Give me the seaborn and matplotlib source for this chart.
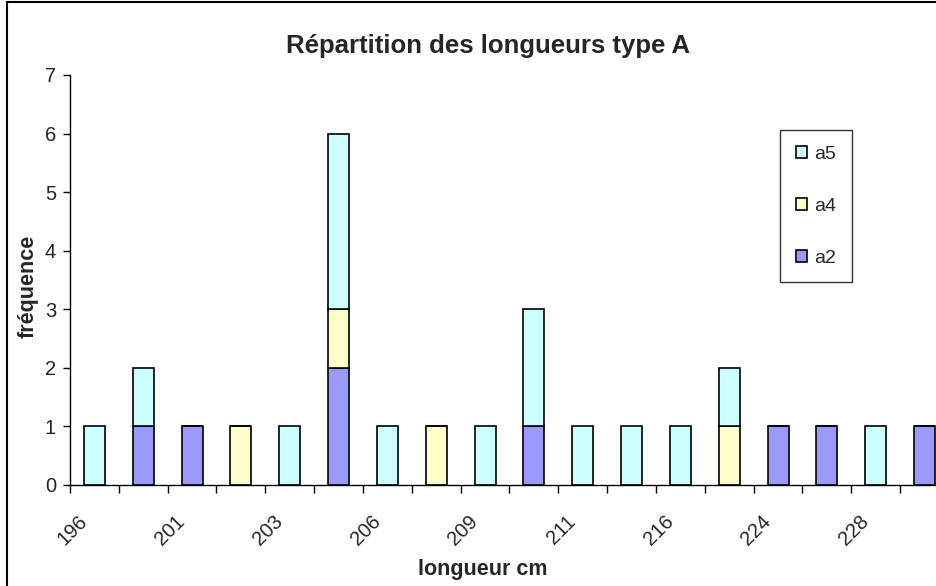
import numpy as np
import pandas as pd
import matplotlib
matplotlib.use("Agg")
import matplotlib.pyplot as plt
from matplotlib.patches import Patch, Rectangle
from matplotlib.transforms import ScaledTranslation
import seaborn as sns

# lengths (cm) - only every other one is labelled on the chart
lengths = ["196", "200", "201", "202", "203", "205", "206", "207", "209",
           "210", "211", "213", "216", "220", "224", "226", "228", "230"]
tick_labels = ["196", "201", "203", "206", "209", "211", "216", "224", "228"]

a2 = [0, 1, 1, 0, 0, 2, 0, 0, 0, 1, 0, 0, 0, 0, 1, 1, 0, 1]
a4 = [0, 0, 0, 1, 0, 1, 0, 1, 0, 0, 0, 0, 0, 1, 0, 0, 0, 0]
a5 = [1, 1, 0, 0, 1, 3, 1, 0, 1, 2, 1, 1, 1, 1, 0, 0, 1, 0]

colors = {"a2": "#9999FF", "a4": "#FFFFCC", "a5": "#CCFFFF"}

df = pd.DataFrame({"longueur": lengths, "a2": a2, "a4": a4, "a5": a5})

sns.set_theme(style="white")
plt.rcParams["font.family"] = ["Liberation Sans", "DejaVu Sans"]

W, H = 937, 586
fig = plt.figure(figsize=(W / 100, H / 100), dpi=100)
ax = fig.add_axes([70 / W, 1 - 485 / H, (949 - 70) / W, (485 - 75) / H])

# stacked bars: a2 at the bottom, then a4, then a5
bottom = np.zeros(len(df))
for serie in ["a2", "a4", "a5"]:
    sns.barplot(data=df, x="longueur", y=serie, bottom=bottom, color=colors[serie],
                width=0.43, edgecolor="black", linewidth=1.2, saturation=1,
                order=lengths, ax=ax)
    bottom = bottom + df[serie].to_numpy()

ax.set_xlim(-0.5, len(lengths) - 0.5)
ax.set_ylim(0, 7)
ax.set_yticks(range(0, 8))
ax.tick_params(axis="y", which="major", direction="out", length=5, width=1,
               color="black", labelsize=14.5, pad=5, left=True)

# major ticks between categories, labels on every other category
ax.set_xticks(np.arange(-0.5, len(lengths), 1.0))
ax.set_xticklabels([])
ax.set_xticks(range(0, len(lengths), 2), tick_labels, minor=True)
ax.tick_params(axis="x", which="major", direction="out", length=6, width=1,
               color="black", bottom=True)
ax.tick_params(axis="x", which="minor", length=0, labelsize=14.5, pad=24)
for lbl in ax.get_xticklabels(minor=True):
    lbl.set_rotation(45)
    lbl.set_ha("right")
    lbl.set_va("center")
    lbl.set_rotation_mode("anchor")
    lbl.set_transform(lbl.get_transform() + ScaledTranslation(-0.1, 0, fig.dpi_scale_trans))

for side in ["top", "right"]:
    ax.spines[side].set_visible(False)
for side in ["left", "bottom"]:
    ax.spines[side].set_color("black")
    ax.spines[side].set_linewidth(1)
ax.grid(False)

ax.set_xlabel("")
ax.set_ylabel("")
fig.text(488 / W, 1 - 46 / H, "Répartition des longueurs type A", ha="center", va="center",
         fontsize=18.5, fontweight="bold")
fig.text(483 / W, 1 - 570 / H, "longueur cm", ha="center", va="center",
         fontsize=15.5, fontweight="bold")
fig.text(28 / W, 1 - 286 / H, "fréquence", ha="center", va="center", rotation=90,
         fontsize=15.5, fontweight="bold")

handles = [Patch(facecolor=colors[s], edgecolor="black", linewidth=1.2) for s in ["a5", "a4", "a2"]]
leg = fig.legend(handles, ["a5", "a4", "a2"], loc="upper left",
                 bbox_to_anchor=(780 / W, 1 - 130 / H), fontsize=14, frameon=True,
                 fancybox=False, handlelength=0.6, handleheight=0.6, handletextpad=0.35,
                 labelspacing=1.8, borderpad=0.8, borderaxespad=0)
leg.get_frame().set_edgecolor("black")
leg.get_frame().set_linewidth(1)

# outer chart border
fig.patches.append(Rectangle((7 / W, -0.02), 1.0, 1 - 2 / H + 0.02, transform=fig.transFigure,
                             fill=False, edgecolor="black", linewidth=1.5))

fig.savefig("out.png", dpi=100)
